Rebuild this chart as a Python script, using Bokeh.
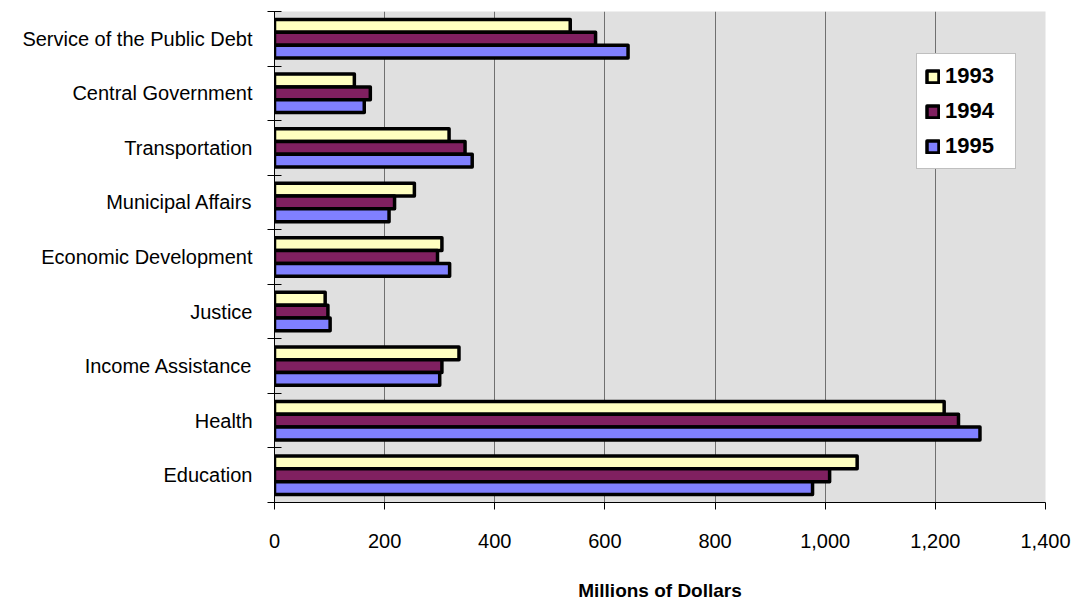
from bokeh.plotting import figure
from bokeh.models import ColumnDataSource, Range1d, FixedTicker, NumeralTickFormatter
from bokeh.transform import dodge
from bokeh.embed import file_html
from bokeh.resources import INLINE

categories = ["Education", "Health", "Income Assistance", "Justice",
              "Economic Development", "Municipal Affairs", "Transportation",
              "Central Government", "Service of the Public Debt"]
years = ["1993", "1994", "1995"]
v1993 = [1058, 1216, 335, 92, 304, 254, 317, 145, 537]
v1994 = [1008, 1242, 304, 97, 296, 218, 346, 174, 583]
v1995 = [977, 1281, 300, 101, 318, 208, 359, 163, 642]
x_ticks = [0, 200, 400, 600, 800, 1000, 1200, 1400]
colors = ["#FFFFC0", "#802060", "#8080FF"]

pos = [i + 0.5 for i in range(len(categories))]
source = ColumnDataSource(dict(pos=pos, cat=categories, y1993=v1993, y1994=v1994, y1995=v1995))

FONT = "Liberation Sans"

p = figure(width=1085, height=606, output_backend="svg", toolbar_location=None,
           x_range=Range1d(0, 1400), y_range=Range1d(0, len(categories)),
           min_border_left=274, min_border_right=40, min_border_top=11, min_border_bottom=104)
p.background_fill_color = "#E0E0E0"
p.border_fill_color = "white"
p.outline_line_color = None

bar_h = 0.235
offsets = [bar_h, 0.0, -bar_h]
for yr, col, off in zip(years, colors, offsets):
    p.hbar(y=dodge("pos", off, range=p.y_range), right="y" + yr, left=0, height=bar_h,
           source=source, fill_color=col, line_color="black", line_width=3.5,
           line_join="round", legend_label=yr)

# x axis
p.xaxis.ticker = FixedTicker(ticks=x_ticks)
p.xaxis.formatter = NumeralTickFormatter(format="0,0")
p.xaxis.axis_label = "Millions of Dollars"
p.xaxis.axis_label_text_font = FONT
p.xaxis.axis_label_text_font_style = "bold"
p.xaxis.axis_label_text_font_size = "19px"
p.xaxis.axis_label_text_color = "black"
p.xaxis.axis_label_standoff = 29
p.xaxis.major_label_text_font = FONT
p.xaxis.major_label_text_font_size = "20px"
p.xaxis.major_label_text_color = "black"
p.xaxis.major_label_standoff = 24
p.xaxis.major_tick_in = 0
p.xaxis.major_tick_out = 7
p.xaxis.minor_tick_line_color = None
p.xaxis.axis_line_color = "black"
p.xaxis.major_tick_line_color = "black"

# y axis
p.yaxis.ticker = FixedTicker(ticks=pos, minor_ticks=list(range(len(categories) + 1)))
p.yaxis.major_label_overrides = {pp: c for pp, c in zip(pos, categories)}
p.yaxis.major_label_text_font = FONT
p.yaxis.major_label_text_font_size = "20px"
p.yaxis.major_label_text_color = "black"
p.yaxis.major_label_standoff = 15
p.yaxis.major_tick_in = 0
p.yaxis.major_tick_out = 0
p.yaxis.minor_tick_in = 7
p.yaxis.minor_tick_out = 7
p.yaxis.minor_tick_line_color = "black"
p.yaxis.axis_line_color = "black"

p.xgrid.grid_line_color = "#707070"
p.xgrid.grid_line_width = 1
p.ygrid.grid_line_color = None

lg = p.legend[0]
lg.location = (642, 333)
lg.label_text_font = FONT
lg.label_text_font_style = "bold"
lg.label_text_font_size = "22px"
lg.label_text_color = "black"
lg.glyph_width = 15
lg.glyph_height = 15
lg.label_height = 28
lg.label_width = 62
lg.label_standoff = 5
lg.spacing = 7
lg.padding = 8
lg.margin = 0
lg.border_line_color = "#808080"
lg.border_line_width = 1
lg.background_fill_color = "white"
lg.background_fill_alpha = 1.0

open("out.html", "w").write(file_html(p, INLINE))
